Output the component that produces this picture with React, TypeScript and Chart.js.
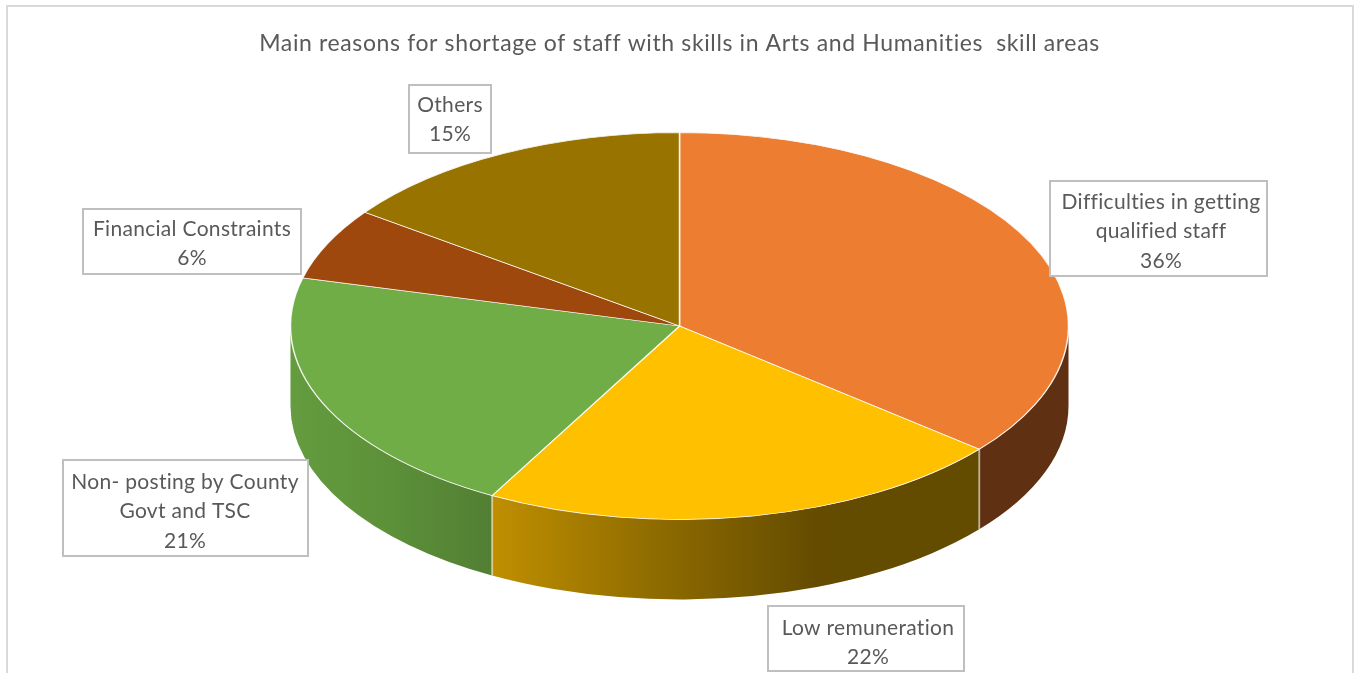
import React, { useEffect, useRef } from "react";
import { Chart, registerables } from "chart.js";

Chart.register(...registerables);

const WIDTH = 1359;
const HEIGHT = 673;

const titleText = "Main reasons for shortage of staff with skills in Arts and Humanities  skill areas";
const categories = [
  "Difficulties in getting qualified staff",
  "Low remuneration",
  "Non- posting by County Govt and TSC",
  "Financial Constraints",
  "Others",
];
const shares = [36, 22, 21, 6, 15];
const topColors = ["#ed7d31", "#ffc000", "#70ad47", "#9e480e", "#997300"];
// Colour stops for the rim of each slice, running left to right across the slice.
const rimStops = [
  ["#5f3112", "#5f3112"],
  ["#c08f00", "#8f6c00", "#644b00", "#634b00"],
  ["#649c3f", "#5c9039", "#527f33"],
  ["#5f2c08", "#5f2c08"],
  ["#5c4500", "#5c4500"],
];
const labelLines = [
  ["Difficulties in getting", "qualified staff", "36%"],
  ["Low remuneration", "22%"],
  ["Non- posting by County", "Govt and TSC", "21%"],
  ["Financial Constraints", "6%"],
  ["Others", "15%"],
];
// Callout rectangles: left, top, width, height, text centre x, first baseline offset.
const labelBoxes = [
  [1050, 181, 217, 95, 1161, 20],
  [768, 606, 196, 65, 868, 21],
  [63, 460, 245, 96, 185, 21],
  [83, 209, 218, 65, 192, 19],
  [409, 85, 82, 68, 450, 19],
];

const PIE_RADIUS = 389;
const SQUASH = 0.4974;
const RIM_DEPTH = 80;
const LINE_HEIGHT = 29.5;
const FONT = "Lato, 'Open Sans', sans-serif";
const TEXT_COLOR = "#595959";

const piePerspective = {
  id: "piePerspective",
  beforeDraw(chart: any) {
    chart.ctx.letterSpacing = "0.62px";
  },
  afterDraw(chart: any) {
    const ctx = chart.ctx;
    // Chart frame, open along the bottom edge
    ctx.save();
    ctx.strokeStyle = "#d9d9d9";
    ctx.lineWidth = 2;
    ctx.beginPath();
    ctx.moveTo(7, HEIGHT);
    ctx.lineTo(7, 6);
    ctx.lineTo(1353, 6);
    ctx.lineTo(1353, HEIGHT);
    ctx.stroke();

    // Callouts with category name and share
    ctx.font = `21px ${FONT}`;
    ctx.textAlign = "center";
    ctx.textBaseline = "middle";
    ctx.letterSpacing = "0.3px";
    labelBoxes.forEach(([x, y, w, h, tx, off], i) => {
      ctx.fillStyle = "#ffffff";
      ctx.fillRect(x, y, w, h);
      ctx.strokeStyle = "#bfbfbf";
      ctx.lineWidth = 2;
      ctx.strokeRect(x, y, w, h);
      ctx.fillStyle = TEXT_COLOR;
      labelLines[i].forEach((line, j) => {
        ctx.fillText(line, tx, y + off + 1 + j * LINE_HEIGHT);
      });
    });
    ctx.letterSpacing = "0px";
    ctx.restore();
  },
  beforeDatasetsDraw(chart: any) {
    const ctx = chart.ctx;
    const arcs = chart.getDatasetMeta(0).data;
    const { x: cx, y: cy, outerRadius: r } = arcs[0];
    const ry = r * SQUASH;

    // Rim: the part of each slice whose outer edge faces the viewer
    arcs.forEach((arc: any, i: number) => {
      const from = Math.max(arc.startAngle, 0);
      const to = Math.min(arc.endAngle, Math.PI);
      if (to <= from) return;
      const x0 = cx + r * Math.cos(to);
      const x1 = cx + r * Math.cos(from);
      const gradient = ctx.createLinearGradient(Math.min(x0, x1), 0, Math.max(x0, x1), 0);
      const stops = rimStops[i];
      stops.forEach((c, k) => gradient.addColorStop(k / (stops.length - 1), c));
      ctx.beginPath();
      ctx.ellipse(cx, cy, r, ry, 0, from, to);
      ctx.ellipse(cx, cy + RIM_DEPTH, r, ry, 0, to, from, true);
      ctx.closePath();
      ctx.fillStyle = gradient;
      ctx.fill();
    });

    // Seams where neighbouring slices meet on the rim
    ctx.save();
    ctx.strokeStyle = "rgba(255,255,255,0.5)";
    ctx.lineWidth = 2;
    arcs.forEach((arc: any) => {
      const a = arc.endAngle;
      if (a > 0 && a < Math.PI) {
        const px = cx + r * Math.cos(a);
        const py = cy + ry * Math.sin(a);
        ctx.beginPath();
        ctx.moveTo(px, py);
        ctx.lineTo(px, py + RIM_DEPTH);
        ctx.stroke();
      }
    });
    ctx.restore();

    // Flatten the pie face into an ellipse for the arcs drawn next
    ctx.save();
    ctx.translate(cx, cy);
    ctx.scale(1, SQUASH);
    ctx.translate(-cx, -cy);
  },
  afterDatasetsDraw(chart: any) {
    chart.ctx.restore();
  },
};

export default function App() {
  const canvasRef = useRef<HTMLCanvasElement>(null);

  useEffect(() => {
    const chart = new Chart(canvasRef.current!, {
      type: "pie",
      data: {
        labels: categories,
        datasets: [
          {
            data: shares,
            backgroundColor: topColors,
            borderColor: "rgba(255,255,255,0.9)",
            borderWidth: 1.5,
            radius: PIE_RADIUS,
            clip: false,
          } as any,
        ],
      },
      options: {
        responsive: false,
        animation: false,
        events: [],
        layout: { padding: { top: 0, bottom: 78.6 } },
        plugins: {
          legend: { display: false },
          tooltip: { enabled: false },
          title: {
            display: true,
            text: titleText,
            color: TEXT_COLOR,
            font: { family: FONT, size: 23, weight: "normal" },
            padding: { top: 30, bottom: 0 },
          },
        },
      },
      plugins: [piePerspective],
    });
    return () => chart.destroy();
  }, []);

  return (
    <div style={{ position: "absolute", left: 0, top: 0, width: WIDTH, height: HEIGHT, background: "#fff" }}>
      <canvas ref={canvasRef} width={WIDTH} height={HEIGHT} style={{ display: "block" }} />
    </div>
  );
}
